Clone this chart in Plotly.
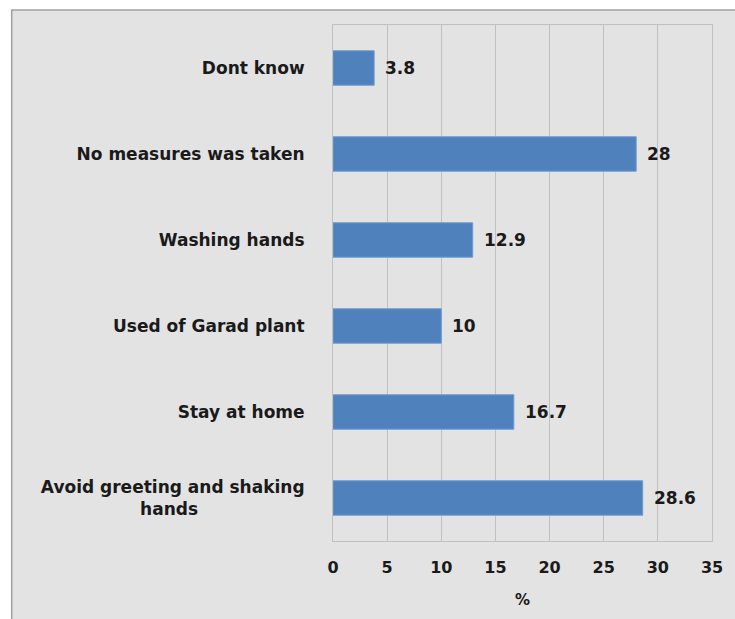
import plotly.graph_objects as go

categories = ["Avoid greeting and shaking<br>hands" + "&nbsp;" * 18, "Stay at home", "Used of Garad plant",
              "Washing hands", "No measures was taken", "Dont know"]
values = [28.6, 16.7, 10, 12.9, 28, 3.8]
value_labels = ["28.6", "16.7", "10", "12.9", "28", "3.8"]
x_ticks = [0, 5, 10, 15, 20, 25, 30, 35]

W, H = 735, 619
L, R, T, B = 333, 21, 25, 78
pw, ph = W - L - R, H - T - B
FONT = "DejaVu Sans"
TXT = "#1a1a1a"

def px(x):
    return (x - L) / pw

def py(y):
    return (H - B - y) / ph

fig = go.Figure()
fig.add_trace(go.Bar(
    x=values, y=categories, orientation="h",
    marker=dict(color="#4F81BD", line=dict(color="#6d9bd1", width=1)),
    width=0.4, hoverinfo="skip",
))

for v, c, t in zip(values, categories, value_labels):
    fig.add_annotation(x=v, y=c, text=t, showarrow=False, xanchor="left",
                       xshift=9, font=dict(family=FONT, size=17, color=TXT, weight="bold"))

fig.add_annotation(x=0.5, y=py(600), xref="paper", yref="paper", yanchor="middle",
                   text="%", showarrow=False,
                   font=dict(family=FONT, size=15, color=TXT, weight="bold"))

# background panel with frame
fig.add_shape(type="rect", xref="paper", yref="paper", x0=px(10), x1=px(745), y0=py(630), y1=py(10),
              fillcolor="#e3e3e3", line=dict(color="#a0a0a0", width=1.5), layer="below")

fig.update_layout(
    width=W, height=H,
    margin=dict(l=L, r=R, t=T, b=B, pad=0),
    paper_bgcolor="white", plot_bgcolor="white",
    showlegend=False,
    xaxis=dict(range=[0, 35], tickvals=x_ticks, showgrid=True, gridcolor="#c0c0c0", gridwidth=1,
               showline=True, linecolor="#c0c0c0", mirror=True, zeroline=False, ticks="",
               tickfont=dict(family=FONT, size=16, color=TXT, weight="bold"), ticklabelstandoff=12),
    yaxis=dict(showgrid=False, showline=True, linecolor="#c0c0c0", mirror=True, ticks="",
               tickfont=dict(family=FONT, size=17, color=TXT, weight="bold"), ticklabelstandoff=24,
               range=[-0.5, 5.5]),
)

fig.write_html("out.html", config={"displayModeBar": False},
               post_script="document.body.style.margin='0';document.body.style.overflow='hidden';")
